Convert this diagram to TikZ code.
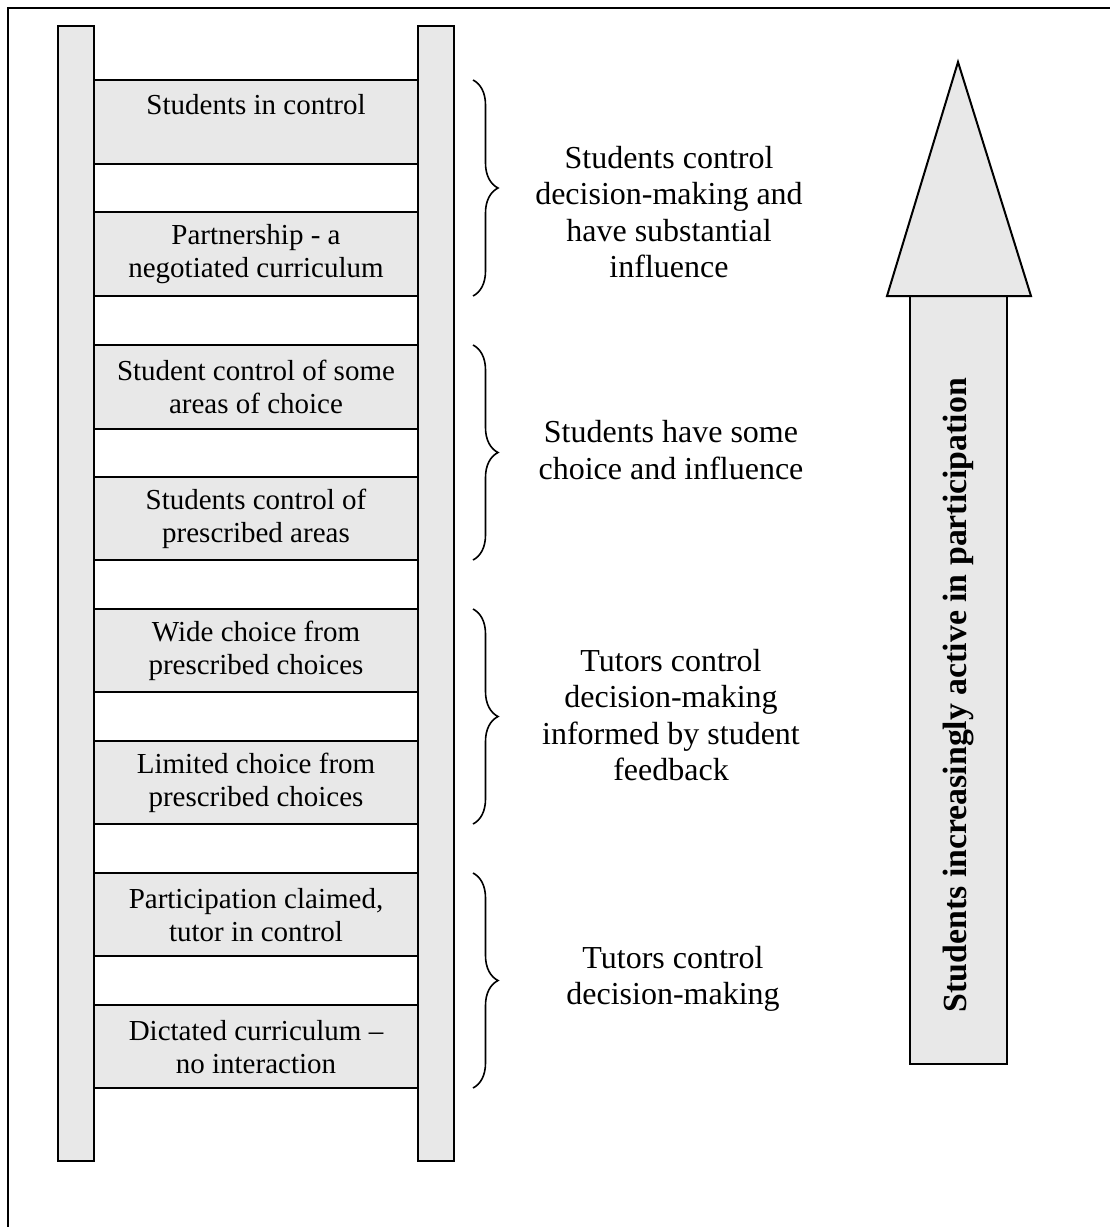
\documentclass[tikz,border=0pt]{standalone}
\usepackage{fontspec}
\setmainfont{Liberation Serif}
\usetikzlibrary{decorations.pathreplacing}
\definecolor{fillgray}{HTML}{E8E8E8}
\begin{document}
\begin{tikzpicture}[x=1pt,y=-1pt,
  railbox/.style={draw=black, line width=2pt, fill=fillgray, inner sep=0pt, minimum width=36pt, minimum height=1135pt},
  rungbox/.style={draw=black, line width=2pt, fill=fillgray, inner sep=0pt, minimum width=324pt, minimum height=83.5pt},
  rungtext/.style={align=center, font=\fontsize{29}{33}\selectfont, inner sep=0pt},
  sidetext/.style={align=center, font=\fontsize{32}{36.5}\selectfont, inner sep=0pt},
  bracestyle/.style={decorate, decoration={brace, amplitude=25pt}, line width=1.6pt},
  arrowshape/.style={draw=black, line width=2pt, fill=fillgray, line join=miter},
]
\useasboundingbox (0,0) rectangle (1110,1227);
\fill[white] (0,0) rectangle (1110,1227);
% outer frame (only top and left edges fall inside the picture)
\draw[line width=2.2pt] (8,1240) -- (8,8) -- (1120,8);

% rungs
\node[rungbox] (r1) at (256,122) {};
\node[rungbox] (r2) at (256,254) {};
\node[rungbox] (r3) at (256,387) {};
\node[rungbox] (r4) at (256,518.5) {};
\node[rungbox] (r5) at (256,650.5) {};
\node[rungbox] (r6) at (256,782.5) {};
\node[rungbox] (r7) at (256,914.5) {};
\node[rungbox] (r8) at (256,1046.5) {};

% rails
\node[railbox] (lrail) at (76,593.5) {};
\node[railbox] (rrail) at (436,593.5) {};

% rung texts
\node[rungtext] (t1) at (256,105) {Students in control};
\node[rungtext] (t2) at (256,254) {Partnership - a\\negotiated curriculum};
\node[rungtext] (t3) at (256,387) {Student control of some\\areas of choice};
\node[rungtext] (t4) at (256,519) {Students control of\\prescribed areas};
\node[rungtext] (t5) at (256,651) {Wide choice from\\prescribed choices};
\node[rungtext] (t6) at (256,783) {Limited choice from\\prescribed choices};
\node[rungtext] (t7) at (256,915) {Participation claimed,\\tutor in control};
\node[rungtext] (t8) at (256,1047) {Dictated curriculum --\\no interaction};

% braces
\draw[bracestyle] (473,80) -- (473,296);
\draw[bracestyle] (473,345) -- (473,560);
\draw[bracestyle] (473,609) -- (473,824);
\draw[bracestyle] (473,873) -- (473,1088);

% side labels
\node[sidetext] (s1) at (669,212) {Students control\\decision-making and\\have substantial\\influence};
\node[sidetext] (s2) at (671,450) {Students have some\\choice and influence};
\node[sidetext] (s3) at (671,715) {Tutors control\\decision-making\\informed by student\\feedback};
\node[sidetext] (s4) at (673,979) {Tutors control\\decision-making};

% big arrow
\draw[arrowshape] (910,296) rectangle (1007,1064);
\draw[arrowshape] (887,296) -- (958,62) -- (1031,296) -- cycle;
\node[rotate=90, inner sep=0pt, font=\bfseries\fontsize{33.8}{36}\selectfont] (atext) at (958,695) {Students increasingly active in participation};
\end{tikzpicture}
\end{document}
